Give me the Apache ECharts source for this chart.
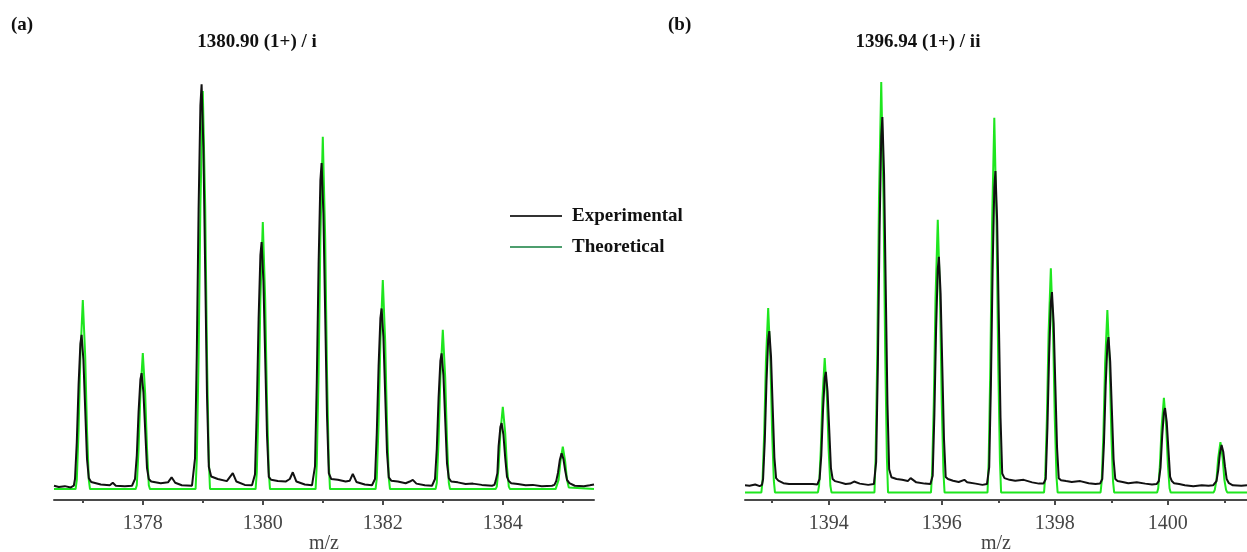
<!DOCTYPE html>
<html>
<head>
<meta charset="utf-8">
<script src="https://cdn.jsdelivr.net/npm/echarts@6/dist/echarts.min.js"></script>
<style>
html,body{margin:0;padding:0;background:#fff;}
#main{width:1247px;height:552px;}
</style>
</head>
<body>
<div id="main"></div>
<script>
// panel (a): experimental profile, [m/z, intensity]
var expA = [
  [1376.52,3.4],[1376.6,3.1],[1376.7,3.3],[1376.8,3.0],
  [1376.85,3.4],[1376.87,5],[1376.9,13.8],[1376.93,27.5],[1376.96,37.3],[1376.98,39.3],[1377.01,33.4],[1377.04,21.6],[1377.07,9.8],[1377.1,5.2],[1377.14,4.3],
  [1377.3,3.7],[1377.45,3.5],[1377.5,4.1],[1377.55,3.4],[1377.7,3.3],[1377.82,3.4],
  [1377.85,3.5],[1377.87,5],[1377.9,10.6],[1377.93,21.1],[1377.96,28.7],[1377.98,30.2],[1378.01,25.7],[1378.04,16.6],[1378.07,7.6],[1378.1,5],[1378.14,4.4],
  [1378.3,4.0],[1378.42,4.2],[1378.48,5.4],[1378.54,4.1],[1378.65,3.5],[1378.82,3.4],
  [1378.85,3.8],[1378.87,9.9],[1378.9,34.7],[1378.93,69.3],[1378.96,94],[1378.98,99],[1379.01,84],[1379.04,54.5],[1379.07,24.8],[1379.1,7.9],[1379.14,5.6],
  [1379.25,5.0],[1379.4,4.5],[1379.5,6.4],[1379.56,4.4],[1379.7,3.6],[1379.82,3.5],
  [1379.85,3.8],[1379.87,6.1],[1379.9,21.5],[1379.93,43],[1379.96,58.3],[1379.98,61.4],[1380.01,52.2],[1380.04,33.8],[1380.07,15.4],[1380.1,5.5],[1380.14,4.8],
  [1380.25,4.5],[1380.38,4.4],[1380.45,5],[1380.5,6.6],[1380.56,4.4],[1380.7,3.7],[1380.82,3.5],
  [1380.85,3.8],[1380.87,8],[1380.9,28.1],[1380.93,56.1],[1380.96,76.2],[1380.98,80.2],[1381.01,68.2],[1381.04,44.1],[1381.07,20.1],[1381.1,6.4],[1381.14,5],
  [1381.25,4.8],[1381.38,4.4],[1381.45,4.6],[1381.5,6.2],[1381.56,4.3],[1381.7,3.7],[1381.82,3.5],
  [1381.85,3.8],[1381.87,5],[1381.9,16],[1381.93,31.9],[1381.96,43.3],[1381.98,45.6],[1382.01,38.8],[1382.04,25.1],[1382.07,11.4],[1382.1,5.4],[1382.14,4.6],
  [1382.25,4.4],[1382.38,4.0],[1382.45,4.4],[1382.5,4.8],[1382.56,3.9],[1382.7,3.5],[1382.82,3.4],
  [1382.85,3.7],[1382.87,5],[1382.9,12.2],[1382.93,24.4],[1382.96,33.2],[1382.98,34.9],[1383.01,29.7],[1383.04,19.2],[1383.07,8.7],[1383.1,5.2],[1383.14,4.4],
  [1383.25,4.2],[1383.38,3.8],[1383.5,3.9],[1383.65,3.6],[1383.82,3.4],
  [1383.86,3.6],[1383.88,4.5],[1383.91,6.4],[1383.93,12.8],[1383.96,17.4],[1383.98,18.3],[1384.01,15.6],[1384.04,10.1],[1384.07,5.5],[1384.1,4.5],[1384.14,4.0],
  [1384.25,3.8],[1384.38,3.5],[1384.5,3.6],[1384.65,3.3],[1384.82,3.4],
  [1384.86,3.6],[1384.89,4.5],[1384.92,6.5],[1384.95,9.5],[1384.98,11.1],[1385.01,9.8],[1385.04,7],[1385.07,4.8],[1385.11,4.0],
  [1385.2,3.4],[1385.35,3.3],[1385.45,3.5],[1385.52,3.7]
];
// panel (a): theoretical profile
var theoA = [
  [1376.52,2.6],
  [1376.88,2.6],[1376.9,4.8],[1376.93,16.7],[1376.96,34.3],[1377.0,47.6],[1377.04,34.3],[1377.07,16.7],[1377.1,4.8],[1377.12,2.6],
  [1377.88,2.6],[1377.9,3.5],[1377.93,12.3],[1377.96,25.2],[1378.0,35.0],[1378.04,25.2],[1378.07,12.3],[1378.1,3.5],[1378.12,2.6],
  [1378.88,2.6],[1378.9,9.7],[1378.93,34.1],[1378.96,70.1],[1379.0,97.4],[1379.04,70.1],[1379.07,34.1],[1379.1,9.7],[1379.12,2.6],
  [1379.88,2.6],[1379.9,6.6],[1379.93,23.2],[1379.96,47.7],[1380.0,66.2],[1380.04,47.7],[1380.07,23.2],[1380.1,6.6],[1380.12,2.6],
  [1380.88,2.6],[1380.9,8.7],[1380.93,30.3],[1380.96,62.3],[1381.0,86.5],[1381.04,62.3],[1381.07,30.3],[1381.1,8.7],[1381.12,2.6],
  [1381.88,2.6],[1381.9,5.2],[1381.93,18.3],[1381.96,37.7],[1382.0,52.4],[1382.04,37.7],[1382.07,18.3],[1382.1,5.2],[1382.12,2.6],
  [1382.88,2.6],[1382.9,4.1],[1382.93,14.2],[1382.96,29.2],[1383.0,40.5],[1383.04,29.2],[1383.07,14.2],[1383.1,4.1],[1383.12,2.6],
  [1383.88,2.6],[1383.9,3.2],[1383.93,7.8],[1383.96,16],[1384.0,22.2],[1384.04,16],[1384.07,7.8],[1384.1,3.2],[1384.12,2.6],
  [1384.88,2.6],[1384.9,3.0],[1384.93,4.8],[1384.96,9.1],[1385.0,12.7],[1385.04,9.1],[1385.07,4.8],[1385.1,3.0],[1385.12,2.6],
  [1385.52,2.6]
];
// panel (b): experimental profile
var expB = [
  [1392.52,3.5],[1392.6,3.4],[1392.7,3.7],[1392.78,3.3],
  [1392.82,3.6],[1392.84,5],[1392.87,14.1],[1392.9,28.1],[1392.93,38.2],[1392.95,40.2],[1392.98,34.2],[1393.01,22.1],[1393.04,10.1],[1393.07,5.2],[1393.11,4.6],
  [1393.2,4.0],[1393.3,3.8],[1393.45,3.8],[1393.6,3.8],[1393.72,3.8],[1393.8,3.7],
  [1393.82,3.8],[1393.84,5],[1393.87,10.7],[1393.9,21.4],[1393.93,29],[1393.95,30.5],[1393.98,25.9],[1394.01,16.8],[1394.04,7.6],[1394.07,5],[1394.11,4.5],
  [1394.2,4.2],[1394.3,3.8],[1394.38,3.9],[1394.45,4.4],[1394.55,3.9],[1394.7,3.6],[1394.8,3.8],
  [1394.82,4.0],[1394.84,9.1],[1394.87,31.9],[1394.9,63.8],[1394.93,86.6],[1394.95,91.2],[1394.98,77.5],[1395.01,50.2],[1395.04,22.8],[1395.07,7.3],[1395.11,5.4],
  [1395.2,5.0],[1395.3,4.8],[1395.4,4.5],[1395.45,5.2],[1395.55,4.2],[1395.7,3.9],[1395.8,3.8],
  [1395.82,4.0],[1395.84,5.8],[1395.87,20.3],[1395.9,40.5],[1395.93,55],[1395.95,57.9],[1395.98,49.2],[1396.01,31.8],[1396.04,14.5],[1396.07,5.5],[1396.11,5],
  [1396.2,4.6],[1396.3,4.3],[1396.4,4.8],[1396.45,4.2],[1396.6,3.9],[1396.72,3.6],[1396.8,3.8],
  [1396.82,4.0],[1396.84,7.8],[1396.87,27.4],[1396.9,54.8],[1396.93,74.4],[1396.95,78.3],[1396.98,66.6],[1397.01,43.1],[1397.04,19.6],[1397.07,6.3],[1397.11,5.2],
  [1397.2,4.8],[1397.3,4.6],[1397.45,4.8],[1397.6,4.2],[1397.72,3.9],[1397.8,3.9],
  [1397.82,4.0],[1397.84,5],[1397.87,17.3],[1397.9,34.7],[1397.93,47],[1397.95,49.5],[1397.98,42.1],[1398.01,27.2],[1398.04,12.4],[1398.07,5.2],[1398.11,4.7],
  [1398.2,4.5],[1398.3,4.3],[1398.45,4.5],[1398.6,4.0],[1398.72,3.8],[1398.8,3.9],
  [1398.82,4.0],[1398.84,5],[1398.87,13.6],[1398.9,27.2],[1398.93,36.9],[1398.95,38.8],[1398.98,33],[1399.01,21.3],[1399.04,9.7],[1399.07,5],[1399.11,4.5],
  [1399.2,4.3],[1399.3,4.0],[1399.45,4.2],[1399.6,3.9],[1399.72,3.7],[1399.8,3.8],
  [1399.82,3.9],[1399.84,4.5],[1399.87,7.7],[1399.9,15.3],[1399.93,20.8],[1399.95,21.9],[1399.98,18.6],[1400.01,12],[1400.04,5.5],[1400.07,4.5],[1400.11,4.0],
  [1400.2,3.8],[1400.3,3.5],[1400.45,3.3],[1400.6,3.5],[1400.72,3.4],[1400.8,3.5],
  [1400.83,3.6],[1400.86,4.5],[1400.89,7],[1400.92,11],[1400.95,13.1],[1400.98,11.5],[1401.01,8],[1401.04,5],[1401.08,4],
  [1401.15,3.5],[1401.3,3.4],[1401.4,3.5]
];
// panel (b): theoretical profile
var theoB = [
  [1392.52,1.8],
  [1392.81,1.8],[1392.83,4.6],[1392.86,16],[1392.89,32.9],[1392.93,45.7],[1392.97,32.9],[1393.0,16],[1393.03,4.6],[1393.05,1.8],
  [1393.81,1.8],[1393.83,3.4],[1393.86,11.8],[1393.89,24.3],[1393.93,33.8],[1393.97,24.3],[1394.0,11.8],[1394.03,3.4],[1394.05,1.8],
  [1394.81,1.8],[1394.83,10],[1394.86,34.8],[1394.89,71.6],[1394.93,99.5],[1394.97,71.6],[1395.0,34.8],[1395.03,10],[1395.05,1.8],
  [1395.81,1.8],[1395.83,6.7],[1395.86,23.3],[1395.89,48],[1395.93,66.7],[1395.97,48],[1396.0,23.3],[1396.03,6.7],[1396.05,1.8],
  [1396.81,1.8],[1396.83,9.1],[1396.86,31.9],[1396.89,65.5],[1396.93,91.0],[1396.97,65.5],[1397.0,31.9],[1397.03,9.1],[1397.05,1.8],
  [1397.81,1.8],[1397.83,5.5],[1397.86,19.3],[1397.89,39.7],[1397.93,55.2],[1397.97,39.7],[1398.0,19.3],[1398.03,5.5],[1398.05,1.8],
  [1398.81,1.8],[1398.83,4.5],[1398.86,15.8],[1398.89,32.5],[1398.93,45.2],[1398.97,32.5],[1399.0,15.8],[1399.03,4.5],[1399.05,1.8],
  [1399.81,1.8],[1399.83,2.8],[1399.86,8.5],[1399.89,17.5],[1399.93,24.3],[1399.97,17.5],[1400.0,8.5],[1400.03,2.8],[1400.05,1.8],
  [1400.81,1.8],[1400.83,2.4],[1400.86,4.8],[1400.89,9.9],[1400.93,13.8],[1400.97,9.9],[1401.0,4.8],[1401.03,2.4],[1401.05,1.8],
  [1401.4,1.8]
];

var rangeA = [1376.52, 1385.52];
var rangeB = [1392.52, 1401.4];
var majorA = [1378, 1380, 1382, 1384];
var minorA = [1377, 1379, 1381, 1383, 1385];
var majorB = [1394, 1396, 1398, 1400];
var minorB = [1393, 1395, 1397, 1399, 1401];

var serif = '"Liberation Serif", "Times New Roman", serif';
var axisColor = '#4a4a4a';
var expColor = '#111111';
var theoColor = '#1ee61e';

function majorAxis(grid, range, ticks) {
  return {
    type: 'value', gridIndex: grid, position: 'bottom', min: range[0], max: range[1],
    name: 'm/z', nameLocation: 'middle', nameGap: 34, nameMoveOverlap: false,
    nameTextStyle: {fontFamily: serif, fontSize: 20, color: '#444'},
    axisLine: {show: true, onZero: false, lineStyle: {color: axisColor, width: 2}},
    axisTick: {show: true, length: 5, customValues: ticks, lineStyle: {color: axisColor, width: 2}},
    axisLabel: {
      show: true, customValues: ticks, margin: 14, fontFamily: serif, fontSize: 20, color: '#444',
      formatter: function (v) { return String(v); }
    },
    splitLine: {show: false}
  };
}
function minorAxis(grid, range, ticks) {
  return {
    type: 'value', gridIndex: grid, position: 'bottom', min: range[0], max: range[1],
    axisLine: {show: false, onZero: false},
    axisTick: {show: true, length: 3, customValues: ticks, lineStyle: {color: axisColor, width: 2}},
    axisLabel: {show: false},
    splitLine: {show: false}
  };
}
function yAxis(grid) {
  return {type: 'value', gridIndex: grid, min: 0, max: 100, show: false};
}
function line(name, x, data, color) {
  return {
    name: name, type: 'line', xAxisIndex: x, yAxisIndex: x < 2 ? 0 : 1,
    data: data, symbol: 'none', silent: true,
    lineStyle: {color: color, width: 2}, itemStyle: {color: color}
  };
}

var titleStyle = {fontFamily: serif, fontSize: 19, fontWeight: 'bold', color: '#111'};
var option = {
  animation: false,
  backgroundColor: '#fff',
  title: [
    {text: '(a)', left: 6, top: 11, textStyle: titleStyle},
    {text: '1380.90 (1+) / i', left: 252, textAlign: 'center', top: 28, textStyle: titleStyle},
    {text: '(b)', left: 663, top: 11, textStyle: titleStyle},
    {text: '1396.94 (1+) / ii', left: 913, textAlign: 'center', top: 28, textStyle: titleStyle}
  ],
  legend: {
    orient: 'vertical', left: 505, top: 201,
    icon: 'rect', itemWidth: 52, itemHeight: 2, itemGap: 11,
    textStyle: {fontFamily: serif, fontSize: 19, fontWeight: 'bold', color: '#111', lineHeight: 20, padding: [0, 0, 0, 5]},
    data: [
      {name: 'Experimental', itemStyle: {color: '#333'}},
      {name: 'Theoretical', itemStyle: {color: '#4e9e6e'}}
    ]
  },
  grid: [
    {left: 54, top: 80, width: 540, height: 420, outerBoundsMode: 'none'},
    {left: 745, top: 80, width: 502, height: 420, outerBoundsMode: 'none'}
  ],
  xAxis: [
    majorAxis(0, rangeA, majorA), minorAxis(0, rangeA, minorA),
    majorAxis(1, rangeB, majorB), minorAxis(1, rangeB, minorB)
  ],
  yAxis: [yAxis(0), yAxis(1)],
  series: [
    line('Theoretical', 0, theoA, theoColor),
    line('Experimental', 0, expA, expColor),
    line('Theoretical', 2, theoB, theoColor),
    line('Experimental', 2, expB, expColor)
  ]
};

var chart = echarts.init(document.getElementById('main'));
chart.setOption(option);
</script>
</body>
</html>
